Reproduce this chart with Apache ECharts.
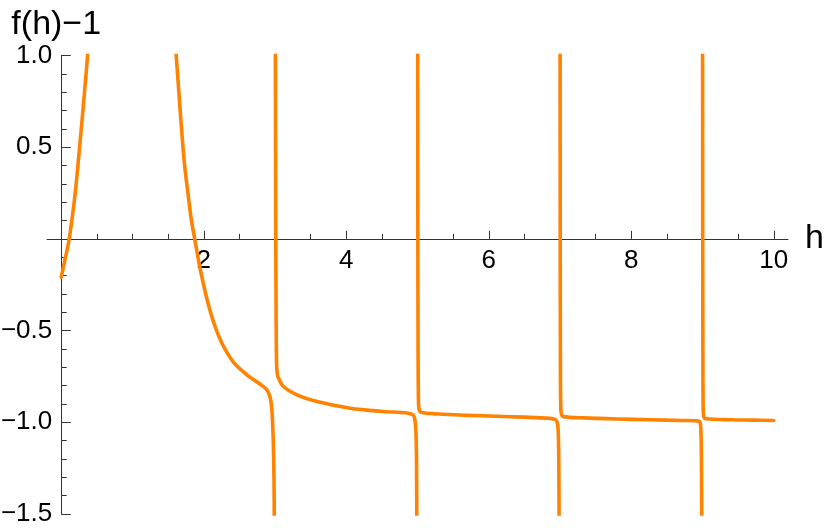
<!DOCTYPE html>
<html>
<head>
<meta charset="utf-8">
<script src="https://cdn.jsdelivr.net/npm/echarts@6/dist/echarts.min.js"></script>
<style>html,body{margin:0;padding:0;background:#fff}#c{width:830px;height:530px}</style>
</head>
<body>
<div id="c"></div>
<script>
// Data: [h, f(h)-1]
const branch1 = [[0,-0.209],[0.05,-0.117],[0.112,0],[0.196,0.25],[0.257,0.497],[0.313,0.74],[0.369,0.997],[0.40,1.16]];
const branch2 = [[1.59,1.13],[1.614,0.997],[1.66,0.75],[1.708,0.5],[1.74,0.37],[1.778,0.25],[1.82,0.12],[1.873,0],[1.936,-0.136],[1.999,-0.252],[2.063,-0.355],[2.147,-0.464],[2.259,-0.572],[2.413,-0.670],[2.606,-0.741],[2.768,-0.786],[2.886,-0.823],[2.933,-0.866],[2.956,-0.932],[2.975,-1.095],[2.986,-1.313],[2.991,-1.6]];
const branch3 = [[3.005,1.1],[3.008,0.5],[3.011,0],[3.016,-0.45],[3.022,-0.68],[3.032,-0.735],[3.049,-0.759],[3.119,-0.805],[3.307,-0.850],[3.588,-0.887],[4.055,-0.923],[4.522,-0.941],[4.851,-0.949],[4.94,-0.960],[4.965,-0.99],[4.978,-1.05],[4.986,-1.2],[4.991,-1.6]];
const branch4 = [[5.003,1.1],[5.005,0],[5.008,-0.6],[5.012,-0.85],[5.02,-0.925],[5.05,-0.945],[5.3,-0.955],[5.7,-0.962],[6.11,-0.967],[6.5,-0.972],[6.81,-0.977],[6.93,-0.984],[6.96,-1.0],[6.975,-1.05],[6.983,-1.2],[6.988,-1.6]];
const branch5 = [[7.001,1.1],[7.003,0],[7.006,-0.7],[7.01,-0.9],[7.02,-0.955],[7.05,-0.969],[7.33,-0.976],[7.8,-0.982],[8.26,-0.986],[8.7,-0.990],[8.92,-0.992],[8.965,-1.0],[8.978,-1.05],[8.985,-1.2],[8.99,-1.6]];
const branch6 = [[9.001,1.1],[9.003,0],[9.006,-0.7],[9.01,-0.93],[9.02,-0.972],[9.05,-0.981],[9.4,-0.986],[9.7,-0.988],[10.0,-0.99]];
const branches = [branch1, branch2, branch3, branch4, branch5, branch6];

const xMajorTicks = [2, 4, 6, 8, 10];
const xMinorTicks = [0.5, 1, 1.5, 2.5, 3, 3.5, 4.5, 5, 5.5, 6.5, 7, 7.5, 8.5, 9, 9.5];
const yMajorTicks = [-1.5, -1.0, -0.5, 0.5, 1.0];
const yMinorTicks = [-1.4, -1.3, -1.2, -1.1, -0.9, -0.8, -0.7, -0.6, -0.4, -0.3, -0.2, -0.1, 0.1, 0.2, 0.3, 0.4, 0.6, 0.7, 0.8, 0.9];
const xRange = [-0.2, 10.2];
const yRange = [-1.5, 1.0];
const xName = 'h';
const yName = 'f(h)\u22121';

const FONT = 'Liberation Sans, Arial, sans-serif';
const AXIS_COLOR = '#333';
const LINE_COLOR = '#FF8200';

// grid box (pixels)
const W = 830, H = 530;
const G = {left: 47, right: 42, top: 55.5, bottom: 16};
const gw = W - G.left - G.right, gh = H - G.top - G.bottom;
// place axes through the origin (axis crossing), via offsets
const xAxisOffset = -gh * (0 - yRange[0]) / (yRange[1] - yRange[0]);
const yAxisOffset = -gw * (0 - xRange[0]) / (xRange[1] - xRange[0]);

const chart = echarts.init(document.getElementById('c'), null, {renderer: 'canvas'});
const fmtY = v => (v < 0 ? '\u2212' : '') + Math.abs(v).toFixed(1);

function xAx(major) {
  return {
    type: 'value', min: xRange[0], max: xRange[1], position: 'bottom', offset: xAxisOffset,
    axisLine: {show: true, onZero: false, lineStyle: {color: AXIS_COLOR, width: 1, opacity: major ? 1 : 0}},
    axisTick: {show: true, inside: true, length: major ? 8 : 5, customValues: major ? xMajorTicks : xMinorTicks, lineStyle: {color: AXIS_COLOR}},
    axisLabel: major ? {show: true, customValues: xMajorTicks, fontSize: 26, fontFamily: FONT, color: '#000', margin: 9} : {show: false},
    splitLine: {show: false},
    name: major ? xName : '', nameLocation: 'end', nameGap: 17,
    nameTextStyle: {fontSize: 34, fontFamily: FONT, color: '#000', verticalAlign: 'middle', padding: [0, 0, 6, 0]}
  };
}
function yAx(major) {
  return {
    type: 'value', min: yRange[0], max: yRange[1], position: 'left', offset: yAxisOffset,
    axisLine: {show: true, onZero: false, lineStyle: {color: AXIS_COLOR, width: 1, opacity: major ? 1 : 0}},
    axisTick: {show: true, inside: true, length: major ? 9.5 : 5.5, customValues: major ? yMajorTicks : yMinorTicks, lineStyle: {color: AXIS_COLOR}},
    axisLabel: major ? {show: true, customValues: yMajorTicks, formatter: fmtY, fontSize: 26, fontFamily: FONT, color: '#000', margin: 9} : {show: false},
    splitLine: {show: false},
    name: major ? yName : '', nameLocation: 'end', nameGap: 14,
    nameTextStyle: {fontSize: 34, fontFamily: FONT, color: '#000', padding: [0, 10, 0, 0]}
  };
}

chart.setOption({
  animation: false,
  backgroundColor: '#fff',
  grid: {left: G.left, right: G.right, top: G.top, bottom: G.bottom, containLabel: false, outerBoundsMode: 'none'},
  xAxis: [xAx(true), xAx(false)],
  yAxis: [yAx(true), yAx(false)],
  series: branches.map(b => ({
    type: 'line', xAxisIndex: 0, yAxisIndex: 0,
    data: b, showSymbol: false, symbol: 'none',
    smooth: 0.3, clip: true,
    lineStyle: {color: LINE_COLOR, width: 3.6, cap: 'round', join: 'round'}
  }))
});
</script>
</body>
</html>
